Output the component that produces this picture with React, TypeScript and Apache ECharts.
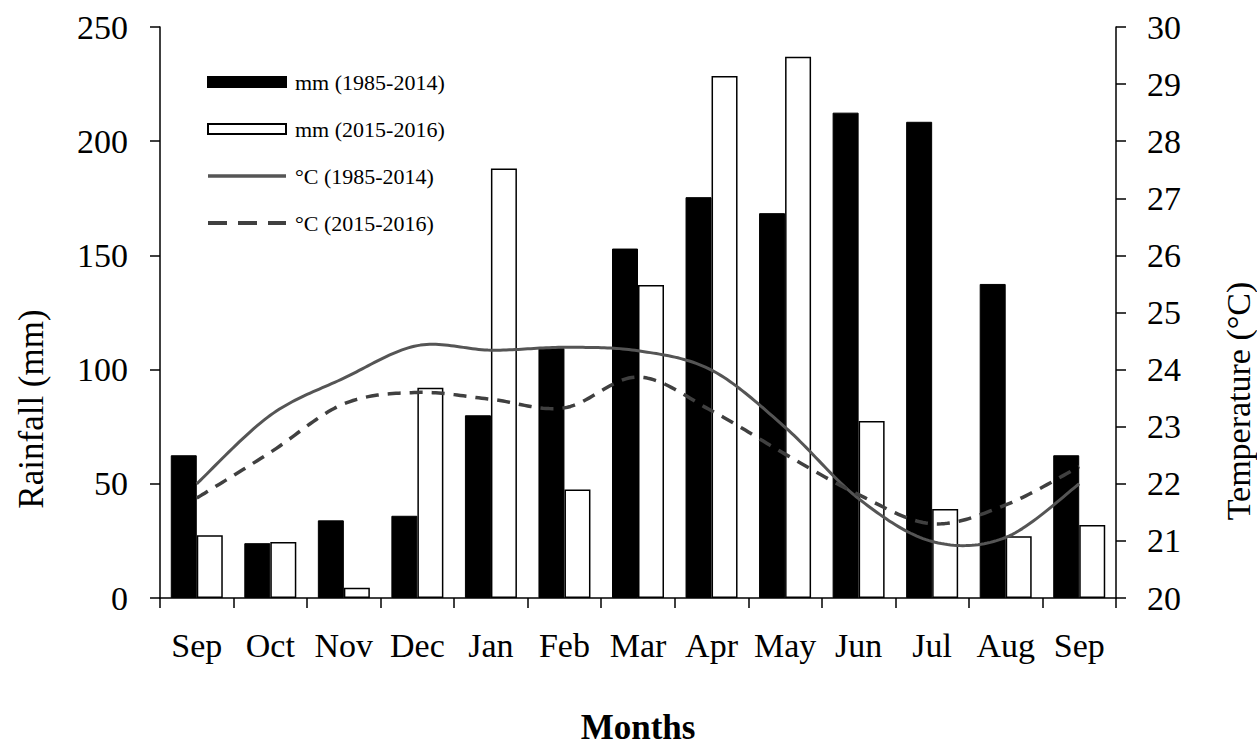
import React, { useEffect, useRef } from "react";
import * as echarts from "echarts";

const months = ["Sep", "Oct", "Nov", "Dec", "Jan", "Feb", "Mar", "Apr", "May", "Jun", "Jul", "Aug", "Sep"];
const rainLongTerm = [62.5, 24, 34, 36, 80, 109.5, 153, 175.5, 168.5, 212.5, 208.5, 137.5, 62.5];
const rainRecent = [27.5, 24.5, 4.5, 92, 188, 47.5, 137, 228.5, 237, 77.5, 39, 27, 32];
const tempLongTerm = [22.0, 23.2, 23.85, 24.42, 24.34, 24.39, 24.33, 23.99, 22.99, 21.74, 20.99, 21.06, 22.0];
const tempRecent = [21.75, 22.55, 23.4, 23.6, 23.48, 23.33, 23.87, 23.28, 22.52, 21.81, 21.3, 21.63, 22.3];
const rainTicks = { min: 0, max: 250, interval: 50 };
const tempTicks = { min: 20, max: 30, interval: 1 };
const seriesNames = ["mm (1985-2014)", "mm (2015-2016)", "°C (1985-2014)", "°C (2015-2016)"];

const FONT = "'Liberation Serif', 'Times New Roman', serif";

// Smooth curve (Catmull-Rom style, like spreadsheet "smoothed line") through points given in pixel space
function smoothPoints(pts: number[][]): number[][] {
  const out: number[][] = [];
  const n = pts.length;
  const steps = 24;
  for (let i = 0; i < n - 1; i++) {
    const p0 = pts[Math.max(0, i - 1)];
    const p1 = pts[i];
    const p2 = pts[i + 1];
    const p3 = pts[Math.min(n - 1, i + 2)];
    const c1 = [p1[0] + (p2[0] - p0[0]) / 6, p1[1] + (p2[1] - p0[1]) / 6];
    const c2 = [p2[0] - (p3[0] - p1[0]) / 6, p2[1] - (p3[1] - p1[1]) / 6];
    for (let s = i === 0 ? 0 : 1; s <= steps; s++) {
      const t = s / steps;
      const mt = 1 - t;
      const x = mt * mt * mt * p1[0] + 3 * mt * mt * t * c1[0] + 3 * mt * t * t * c2[0] + t * t * t * p2[0];
      const y = mt * mt * mt * p1[1] + 3 * mt * mt * t * c1[1] + 3 * mt * t * t * c2[1] + t * t * t * p2[1];
      out.push([x, y]);
    }
  }
  return out;
}

function curveSeries(values: number[], color: string, width: number, dash: number[] | null) {
  return {
    type: "custom",
    coordinateSystem: "cartesian2d",
    yAxisIndex: 1,
    silent: true,
    z: 6,
    data: values.map((v, i) => [i, v]),
    encode: { x: 0, y: 1 },
    renderItem: (params: any, api: any) => {
      if (params.dataIndex !== 0) return null;
      const pts = values.map((v, i) => api.coord([i, v]));
      return {
        type: "polyline",
        shape: { points: smoothPoints(pts) },
        style: {
          fill: "none",
          stroke: color,
          lineWidth: width,
          lineDash: dash || undefined,
          lineCap: "butt",
          lineJoin: "round",
        },
      };
    },
  };
}

export default function App() {
  const ref = useRef<HTMLDivElement>(null);
  useEffect(() => {
    if (!ref.current) return;
    const chart = echarts.init(ref.current, null, { renderer: "svg" });
    const axisLine = { show: true, lineStyle: { color: "#000", width: 1.5 } };
    const axisTick = { show: true, inside: false, length: 10, lineStyle: { color: "#000", width: 1.5 } };
    const hiddenSymbol = { opacity: 0, color: "transparent", borderWidth: 0 };
    chart.setOption({
      animation: false,
      backgroundColor: "#fff",
      textStyle: { fontFamily: FONT },
      grid: { left: 160, right: 141, top: 27, bottom: 122, containLabel: false },
      legend: {
        orient: "vertical",
        left: 206,
        top: 71,
        padding: 0,
        itemWidth: 78,
        itemHeight: 10,
        itemGap: 25,
        textStyle: { fontFamily: FONT, fontSize: 22, color: "#000", lineHeight: 22, padding: [0, 0, 0, 4] },
        data: [
          { name: seriesNames[0], icon: "rect" },
          { name: seriesNames[1], icon: "rect" },
          {
            name: seriesNames[2],
            itemStyle: hiddenSymbol,
            lineStyle: { width: 3.5, color: "#555555", opacity: 1 },
          },
          {
            name: seriesNames[3],
            itemStyle: hiddenSymbol,
            lineStyle: { width: 4, color: "#404040", type: [19, 11], opacity: 1 },
          },
        ],
      },
      xAxis: {
        type: "category",
        data: months,
        boundaryGap: true,
        axisLine,
        axisTick: { ...axisTick, interval: 0, alignWithLabel: false },
        axisLabel: { interval: 0, margin: 30, fontSize: 34, color: "#000", fontFamily: FONT },
        splitLine: { show: false },
        name: "Months",
        nameLocation: "middle",
        nameGap: 112,
        nameTextStyle: { fontSize: 35, fontWeight: "bold", color: "#000", fontFamily: FONT },
      },
      yAxis: [
        {
          type: "value",
          ...rainTicks,
          position: "left",
          axisLine,
          axisTick,
          axisLabel: { margin: 32, fontSize: 34, color: "#000", fontFamily: FONT },
          splitLine: { show: false },
        },
        {
          type: "value",
          ...tempTicks,
          position: "right",
          axisLine,
          axisTick,
          axisLabel: { margin: 31, fontSize: 34, color: "#000", fontFamily: FONT },
          splitLine: { show: false },
        },
      ],
      graphic: [
        {
          type: "text",
          x: 31,
          y: 409,
          rotation: Math.PI / 2,
          style: {
            text: "Rainfall (mm)",
            fontSize: 35,
            fontFamily: FONT,
            fill: "#000",
            textAlign: "center",
            textVerticalAlign: "middle",
          },
        },
        {
          type: "text",
          x: 1238,
          y: 401,
          rotation: Math.PI / 2,
          style: {
            text: "Temperature (°C)",
            fontSize: 34,
            fontFamily: FONT,
            fill: "#000",
            textAlign: "center",
            textVerticalAlign: "middle",
          },
        },
      ],
      series: [
        {
          name: seriesNames[0],
          type: "bar",
          data: rainLongTerm,
          barWidth: 26,
          barGap: "0%",
          itemStyle: { color: "#000", borderColor: "#000", borderWidth: 1 },
        },
        {
          name: seriesNames[1],
          type: "bar",
          data: rainRecent,
          barWidth: 26,
          barGap: "0%",
          itemStyle: { color: "#fff", borderColor: "#000", borderWidth: 1.5 },
        },
        {
          name: seriesNames[2],
          type: "line",
          yAxisIndex: 1,
          data: tempLongTerm,
          symbol: "none",
          silent: true,
          lineStyle: { color: "#555555", width: 3, opacity: 0 },
          itemStyle: { color: "#555555" },
        },
        {
          name: seriesNames[3],
          type: "line",
          yAxisIndex: 1,
          data: tempRecent,
          symbol: "none",
          silent: true,
          lineStyle: { color: "#404040", width: 3.5, type: [13, 9], opacity: 0 },
          itemStyle: { color: "#404040" },
        },
        curveSeries(tempLongTerm, "#555555", 3, null),
        curveSeries(tempRecent, "#404040", 3.5, [13, 9]),
      ],
    });
    return () => chart.dispose();
  }, []);
  return (
    <div
      ref={ref}
      style={{ position: "absolute", left: 0, top: 0, width: 1257, height: 750, background: "#fff" }}
    />
  );
}
